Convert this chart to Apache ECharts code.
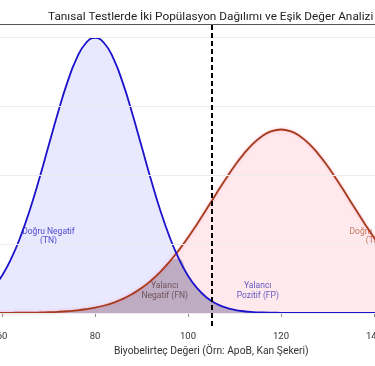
<!DOCTYPE html>
<html>
<head>
<meta charset="utf-8">
<script src="https://cdn.jsdelivr.net/npm/echarts@6/dist/echarts.min.js"></script>
<style>
html,body{margin:0;padding:0;background:#fff;overflow:hidden;width:375px;height:366px}
#c{position:absolute;left:-91px;top:0;width:605px;height:366px}
</style>
</head>
<body>
<div id="c"></div>
<script>
// ---- data ----
const xValues = [40,44,48,52,56,58,60,62,64,66,68,70,72,74,76,78,80,82,84,86,88,90,92,94,96,98,100,102,104,106,108,110,112,114,116,118,120,122,124,126,128,130,132,134,136,138,140,142,144,146,148,150,154,158,162,166,170];
const healthy = [0.000054,0.000158,0.000476,0.001079,0.002239,0.003547,0.005399,0.007895,0.011092,0.014973,0.019419,0.024197,0.028969,0.033322,0.036827,0.039104,0.039894,0.039104,0.036827,0.033322,0.028969,0.024197,0.019419,0.014973,0.011092,0.007895,0.005399,0.003547,0.002239,0.001358,0.000792,0.000443,0.000238,0.000123,0.000061,0.000029,0.000013,0.000006,0.000002,0.000001,0,0,0,0,0,0,0,0,0,0,0,0,0,0,0,0,0];
const diseased = [0,0,0,0.000001,0.000003,0.000005,0.000009,0.000015,0.000025,0.000041,0.000065,0.000103,0.000159,0.000242,0.000360,0.000528,0.000760,0.001074,0.001493,0.002037,0.002732,0.003599,0.004658,0.005921,0.007395,0.009072,0.010934,0.012946,0.015057,0.017206,0.019313,0.021296,0.023071,0.024551,0.025667,0.026361,0.026596,0.026361,0.025667,0.024551,0.023071,0.021296,0.019313,0.017206,0.015057,0.012946,0.010934,0.009072,0.007395,0.005921,0.004658,0.003599,0.002037,0.001074,0.000528,0.000242,0.000103];
const threshold = 105;
const gridValues = [0,0.005,0.010,0.015,0.020,0.025,0.030,0.035,0.040];
const xTicks = [40,60,80,100,120,140,160];
const regionLabels = [
  {text:'Doğru Negatif\n(TN)', x:70, y:0.0111, color:'#2a22c4'},
  {text:'Yalancı\nNegatif (FN)', x:95, y:0.0032, color:'#5a3c40'},
  {text:'Yalancı\nPozitif (FP)', x:115, y:0.0032, color:'#3a32b8'},
  {text:'Doğru Pozitif\n(TP)', x:140, y:0.0111, color:'#b45a3c'}
];
const titleText = 'Tanısal Testlerde İki Popülasyon Dağılımı ve Eşik Değer Analizi';
const xName = 'Biyobelirteç Değeri (Örn: ApoB, Kan Şekeri)';

// ---- build ----
const blueData = xValues.map((x,i)=>[x,healthy[i]]);
const redData = xValues.map((x,i)=>[x,diseased[i]]);
const overlapData = xValues.map((x,i)=>[x,Math.min(healthy[i],diseased[i])]);
const FONT = 'Roboto, "DejaVu Sans", sans-serif';

const chart = echarts.init(document.getElementById('c'), null, {renderer:'canvas'});
chart.setOption({
  animation:false,
  backgroundColor:'#ffffff',
  textStyle:{fontFamily:FONT},
  title:{text:titleText,left:134,top:6,textStyle:{fontFamily:FONT,fontSize:11.8,fontWeight:'normal',color:'#222'}},
  grid:{left:0,right:0.5,top:24,bottom:40,containLabel:false,outerBoundsMode:'none'},
  xAxis:[{
    type:'value',min:40,max:170,interval:20,
    name:xName,nameLocation:'middle',nameGap:20,
    nameTextStyle:{fontFamily:FONT,fontSize:10.3,color:'#333'},
    axisLine:{lineStyle:{color:'#888',width:1}},
    axisTick:{show:true,length:4,lineStyle:{color:'#888'}},
    axisLabel:{fontFamily:FONT,fontSize:9.5,color:'#333',margin:6,
      formatter:v=>xTicks.indexOf(v)>=0?String(v):''},
    splitLine:{show:false}
  },{
    type:'value',position:'top',min:40,max:170,
    axisLine:{show:true,lineStyle:{color:'#555',width:1}},
    axisTick:{show:false},axisLabel:{show:false},splitLine:{show:false}
  }],
  yAxis:{type:'value',min:-0.0019,max:0.0419,show:false,splitLine:{show:false}},
  series:[
    {type:'line',name:'grid',data:[],z:0,silent:true,
      markLine:{silent:true,symbol:'none',label:{show:false},
        lineStyle:{color:'#ececec',width:1,type:'solid'},
        data:gridValues.map(v=>({yAxis:v}))}},
    {type:'line',data:redData,smooth:true,showSymbol:false,z:1,
      lineStyle:{width:0},areaStyle:{color:'rgba(255,0,30,0.12)'}},
    {type:'line',data:blueData,smooth:true,showSymbol:false,z:1,
      lineStyle:{width:0},areaStyle:{color:'rgba(0,0,255,0.13)'}},
    {type:'line',data:overlapData,smooth:true,showSymbol:false,z:2,
      lineStyle:{width:0},areaStyle:{color:'rgba(100,88,100,0.45)'}},
    {type:'scatter',z:3,symbolSize:0,silent:true,
      data:regionLabels.map(l=>({value:[l.x,l.y],
        label:{show:true,position:'inside',formatter:l.text,color:l.color,
          fontFamily:FONT,fontSize:8.5,lineHeight:9.5,align:'center'}}))},
    {type:'line',data:redData,smooth:true,showSymbol:false,z:4,
      lineStyle:{color:'#a53c1e',width:1.8,shadowColor:'rgba(255,120,160,0.5)',shadowBlur:3}},
    {type:'line',data:blueData,smooth:true,showSymbol:false,z:4,
      lineStyle:{color:'#1c12cc',width:1.8},
      markLine:{silent:true,symbol:'none',label:{show:false},z:5,
        lineStyle:{color:'#000',width:2,type:[5,3]},
        data:[{xAxis:threshold}]}}
  ]
});
</script>
</body>
</html>
